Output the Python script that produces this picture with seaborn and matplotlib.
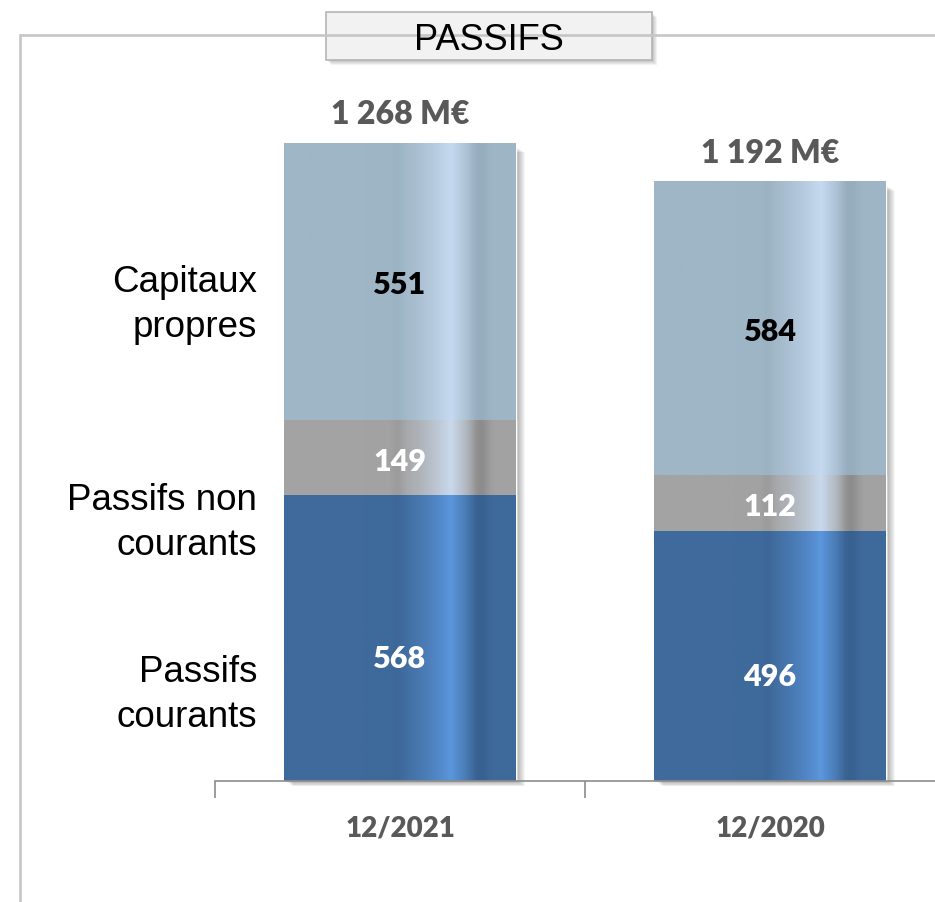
import numpy as np
import pandas as pd
import seaborn as sns
import matplotlib.pyplot as plt
from matplotlib.patches import Rectangle
from matplotlib.lines import Line2D
from matplotlib.colors import to_rgb

# data
periods = ["12/2021", "12/2020"]
seg_labels = ["Passifs\ncourants", "Passifs non\ncourants", "Capitaux\npropres"]
courants = [568, 496]
non_courants = [149, 112]
capitaux = [551, 584]
totals_txt = ["1 268 M€", "1 192 M€"]

df = pd.DataFrame({"period": periods, "courants": courants,
                   "non_courants": non_courants, "capitaux": capitaux})
df["c1"] = df["courants"]
df["c2"] = df["c1"] + df["non_courants"]
df["c3"] = df["c2"] + df["capitaux"]

# colours: base, highlight, dark band
base_cols = {"c3": "#9fb6c6", "c2": "#a3a3a3", "c1": "#3f6a9c"}
high_cols = {"c3": "#c6d9f0", "c2": "#c9d9ec", "c1": "#5b96dc"}
dark_cols = {"c3": "#96acbd", "c2": "#8a8a8a", "c1": "#37608f"}
txt_cols = {"c3": "black", "c2": "white", "c1": "white"}

sns.set_style("white")
plt.rcParams["font.family"] = ["Liberation Sans", "DejaVu Sans"]

fig = plt.figure(figsize=(9.35, 9.03), dpi=100)
ax = fig.add_axes([215 / 935, 121 / 903, 740 / 935, 682 / 903])

bar_w = 0.627
for col in ["c3", "c2", "c1"]:
    sns.barplot(data=df, x="period", y=col, color=base_cols[col], saturation=1,
                width=bar_w, ax=ax, zorder=1)


def gradient(col, n=400):
    t = np.linspace(0, 1, n)
    b, h, d = np.array(to_rgb(base_cols[col])), np.array(to_rgb(high_cols[col])), np.array(to_rgb(dark_cols[col]))
    up = np.where(t < 0.72, np.clip((t - 0.47) / 0.25, 0, 1) ** 1.5, np.clip(1 - (t - 0.72) / 0.11, 0, 1))
    dn = 0.3 * np.exp(-((t - 0.49) / 0.025) ** 2) + 0.9 * np.exp(-((t - 0.85) / 0.035) ** 2)
    rgb = b[None, :] * (1 - up[:, None]) + h[None, :] * up[:, None]
    rgb = rgb * (1 - dn[:, None]) + d[None, :] * dn[:, None]
    return rgb[None, :, :]


ymax = 682 / (638 / 1268)
px_x = 1 / 370
px_y = ymax / 682

cols_order = ["c3", "c2", "c1"]
for k, p in enumerate(ax.patches):
    col = cols_order[k // 2]
    x0, w, h = p.get_x(), p.get_width(), p.get_height()
    if col == "c3":
        # soft shadow
        for s in range(1, 10):
            sh = Rectangle((x0 + s * px_x, -s * 0.6 * px_y), w, h - 4 * px_y,
                           facecolor="black", alpha=0.04, lw=0, zorder=0.5, clip_on=False)
            ax.add_patch(sh)
    im = ax.imshow(gradient(col), extent=[x0, x0 + w, 0, h], aspect="auto",
                   interpolation="bilinear", zorder=2 + k)
    im.set_clip_path(p)

# value labels
lab_font = ["Lato", "DejaVu Sans"]
offsets = {"c3": -2, "c2": -2, "c1": -14}
for i in range(len(periods)):
    lows = {"c1": 0, "c2": df["c1"][i], "c3": df["c2"][i]}
    vals = {"c1": courants[i], "c2": non_courants[i], "c3": capitaux[i]}
    for col in cols_order:
        mid = lows[col] + vals[col] / 2
        ax.annotate(str(vals[col]), (i, mid), xytext=(0, offsets[col]), textcoords="offset points",
                    ha="center", va="center", fontsize=22, fontweight="heavy",
                    color=txt_cols[col], family=lab_font, zorder=20)
    ax.annotate(totals_txt[i], (i, df["c3"][i]), xytext=(0, 21), textcoords="offset points",
                ha="center", va="center", fontsize=23, fontweight="heavy",
                color="#595959", family=lab_font, zorder=20)

# segment names on the left
name_pos = [173, 515, 948]
for name, yp in zip(seg_labels, name_pos):
    ax.text(-0.5 + 42 * px_x, yp, name, ha="right", va="center", ma="right",
            fontsize=26.5, linespacing=1.38, color="black")

ax.set_xlim(-0.5, 1.5)
ax.set_ylim(0, ymax)
ax.set_xlabel("")
ax.set_ylabel("")
ax.set_yticks([])
for s in ["left", "top", "right"]:
    ax.spines[s].set_visible(False)
ax.spines["bottom"].set_color("#8c8c8c")
ax.spines["bottom"].set_linewidth(1.2)
ax.spines["bottom"].set_zorder(30)
ax.set_xticks([0, 1])
ax.set_xticklabels(periods, fontsize=20, fontweight="heavy", color="#595959", family=lab_font)
ax.tick_params(axis="x", which="major", length=0, pad=24)
ax.set_xticks([-0.5, 0.5, 1.5], minor=True)
ax.tick_params(axis="x", which="minor", bottom=True, length=12, width=1.2,
               color="#8c8c8c", direction="out")
ax.patch.set_alpha(0)

# outer frame
fx = 20 / 935
fy = 1 - 36 / 903
fig.add_artist(Line2D([fx, fx], [-0.01, fy], color="#c6c6c6", lw=1.9, transform=fig.transFigure))
fig.add_artist(Line2D([fx, 1.01], [fy, fy], color="#c6c6c6", lw=1.9, transform=fig.transFigure))

# title box
bx0, bx1 = 326 / 935, 652 / 935
by0, by1 = 1 - 61 / 903, 1 - 13 / 903
for s in range(1, 6):
    fig.add_artist(Rectangle((bx0 + s / 935, by0 - s / 903), bx1 - bx0, by1 - by0,
                             transform=fig.transFigure, facecolor="black", alpha=0.05, lw=0))
fig.add_artist(Rectangle((bx0, by0), bx1 - bx0, by1 - by0, transform=fig.transFigure,
                         facecolor="#f2f2f2", edgecolor="#b4b4b4", lw=1.2))
fig.text((bx0 + bx1) / 2, 1 - 40 / 903, "PASSIFS", ha="center", va="center",
         fontsize=26, color="black")

fig.savefig("out.png", dpi=100)
